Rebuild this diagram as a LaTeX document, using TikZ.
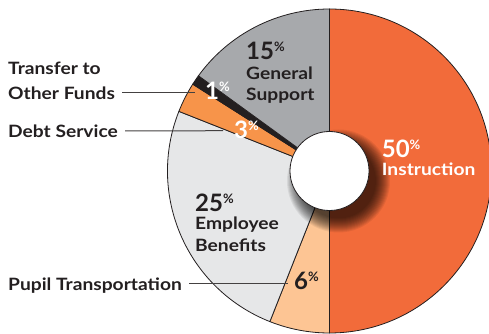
\documentclass[tikz,border=0pt]{standalone}
\usepackage{fontspec}
\setmainfont{Lato}[FakeStretch=1.13]
\newfontfamily\numfont{Lato}
\usetikzlibrary{calc}
\definecolor{ink}{HTML}{231F20}
\definecolor{instr}{HTML}{F26B3A}
\definecolor{pupil}{HTML}{FDC594}
\definecolor{empl}{HTML}{E6E7E8}
\definecolor{debt}{HTML}{F7944A}
\definecolor{gensup}{HTML}{A7A9AC}
\newcommand{\pctnum}[1]{{\numfont\fontsize{24}{24}\selectfont\bfseries #1}\raisebox{8pt}{\numfont\fontsize{13}{13}\selectfont\%}}
\begin{document}
\begin{tikzpicture}[x=1pt,y=1pt,
  txt/.style={inner sep=0pt, anchor=base west, font=\fontsize{17}{17}\selectfont\bfseries, text=ink},
  wtxt/.style={txt, text=white},
  slice/.style={draw=ink, line width=0.8pt},
  conn/.style={draw=ink!85, line width=1pt}]
\useasboundingbox (0,0) rectangle (489,334);
\coordinate (C) at (329.5,163);
\def\R{162}
\def\r{39.5}
% slices
\filldraw[fill=instr, slice] (C) -- ++(90:\R) arc[start angle=90, end angle=-90, radius=\R] -- cycle;
\filldraw[fill=pupil, slice] (C) -- ++(-90:\R) arc[start angle=-90, end angle=-111.6, radius=\R] -- cycle;
\filldraw[fill=empl, slice] (C) -- ++(-111.6:\R) arc[start angle=-111.6, end angle=-201.6, radius=\R] -- cycle;
\filldraw[fill=debt, slice] (C) -- ++(-201.6:\R) arc[start angle=-201.6, end angle=-212.4, radius=\R] -- cycle;
\filldraw[fill=ink, slice] (C) -- ++(-212.4:\R) arc[start angle=-212.4, end angle=-216, radius=\R] -- cycle;
\filldraw[fill=gensup, slice] (C) -- ++(-216:\R) arc[start angle=-216, end angle=-270, radius=\R] -- cycle;
% shadow
\begin{scope}
\clip (C) circle (\R);
\foreach \i in {0,...,14} \fill[black, opacity=0.065] ($(C)+(9,-10)$) circle ({\r-2+\i});
\end{scope}
% hole
\filldraw[fill=white, draw=ink, line width=0.8pt] (C) circle (\r);
% inside labels
\node[txt] (n15) at (246,274) {\pctnum{15}};
\node[txt] (gs1) at (246,254) {General};
\node[txt] (gs2) at (246,233.3) {Support};
\node[wtxt] (n1) at (205,234.7) {\pctnum{1}};
\node[wtxt] (n3) at (234,195.7) {\pctnum{3}};
\node[wtxt] (n50) at (381.7,176.3) {\pctnum{50}};
\node[wtxt] (ins) at (381.7,158) {Instruction};
\node[txt] (n25) at (195,122.3) {\pctnum{25}};
\node[txt] (eb1) at (195,104) {Employee};
\node[txt] (eb2) at (195,82.3) {Benefits};
\node[txt] (n6) at (294,44.7) {\pctnum{6}};
% outside labels
\node[txt] (tr1) at (8,259) {Transfer to};
\node[txt] (tr2) at (8,234.7) {Other Funds};
\node[txt] (ds) at (8,196.7) {Debt Service};
\node[txt] (pt) at (8,43.3) {Pupil Transportation};
\coordinate (trend) at (195,241);
\coordinate (dsend) at (223,203.3);
\coordinate (ptend) at (288,50);
\draw[conn] ($(tr2.base east)+(7,6.3)$) -- (trend);
\draw[conn] ($(ds.base east)+(7,6.3)$) -- (dsend);
\draw[conn] ($(pt.base east)+(7,6.7)$) -- (ptend);
\end{tikzpicture}
\end{document}
